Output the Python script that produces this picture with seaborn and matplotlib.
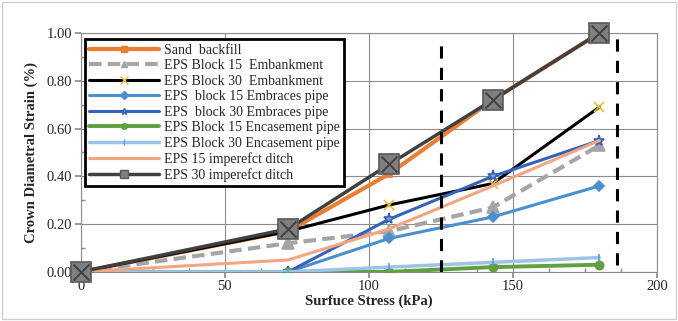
import matplotlib
matplotlib.use("Agg")
import matplotlib.pyplot as plt
import seaborn as sns
import pandas as pd
from matplotlib.patches import Rectangle
from matplotlib.lines import Line2D
from matplotlib.ticker import MultipleLocator

# ---- data ----
stress = [0, 72, 107, 143, 180]
sand_backfill = [0.00, 0.17, 0.41, 0.72, 1.00]
eps15_embankment = [0.00, 0.12, 0.17, 0.27, 0.53]
eps30_embankment = [0.00, 0.17, 0.28, 0.37, 0.69]
eps15_embraces = [0.00, 0.00, 0.14, 0.23, 0.36]
eps30_embraces = [0.00, 0.00, 0.22, 0.40, 0.55]
eps15_encasement = [0.00, 0.00, 0.00, 0.02, 0.03]
eps30_encasement = [0.00, 0.00, 0.02, 0.04, 0.06]
eps15_ditch = [0.00, 0.05, 0.18, 0.36, 0.55]
eps30_ditch = [0.00, 0.18, 0.45, 0.72, 1.00]

labels = ["Sand  backfill", "EPS Block 15  Embankment", "EPS Block 30  Embankment",
          "EPS  block 15 Embraces pipe", "EPS  block 30 Embraces pipe",
          "EPS Block 15 Encasement pipe", "EPS Block 30 Encasement pipe",
          "EPS 15 imperefct ditch", "EPS 30 imperefct ditch"]
series = [sand_backfill, eps15_embankment, eps30_embankment, eps15_embraces,
          eps30_embraces, eps15_encasement, eps30_encasement, eps15_ditch, eps30_ditch]
limit_lines = [125, 186]

x_ticks = [0, 50, 100, 150, 200]
y_ticks = [0.0, 0.2, 0.4, 0.6, 0.8, 1.0]

df = pd.DataFrame({
    "stress": stress * len(series),
    "strain": sum(series, []),
    "case": sum([[l] * len(stress) for l in labels], []),
})

styles = {
    labels[0]: dict(color="#ED7D31", lw=3.0, ls="-", marker="s", ms=4, mfc="#ED7D31", mec="#ED7D31"),
    labels[1]: dict(color="#A5A5A5", lw=3.0, ls=(0, (3, 1.5)), marker="^", ms=8, mfc="#A5A5A5", mec="#A5A5A5"),
    labels[2]: dict(color="black", lw=2.2, ls="-", marker="x", ms=7, mfc="#FFD966", mec="#E6C229"),
    labels[3]: dict(color="#4A8FD0", lw=2.2, ls="-", marker="D", ms=5, mfc="#4A8FD0", mec="#4A8FD0"),
    labels[4]: dict(color="#3563B8", lw=2.2, ls="-", marker="*", ms=8, mfc="#7FA3E0", mec="#3563B8"),
    labels[5]: dict(color="#5FA040", lw=2.8, ls="-", marker="o", ms=6, mfc="#5FA040", mec="#5FA040"),
    labels[6]: dict(color="#9DC3E6", lw=2.5, ls="-", marker="|", ms=6, mfc="#9DC3E6", mec="#5B9BD5"),
    labels[7]: dict(color="#F4A582", lw=2.2, ls="-", marker=None, ms=0, mfc="none", mec="none"),
    labels[8]: dict(color="#404040", lw=2.5, ls="-", marker="s", ms=15, mfc="#7F7F7F", mec="#595959"),
}
legend_ms = [4, 5, 6, 4, 5, 4, 5, 0, 6]

sns.set_theme(style="white")
plt.rcParams["font.family"] = ["Liberation Serif", "DejaVu Serif"]

fig = plt.figure(figsize=(6.78, 3.21), dpi=100)
ax = fig.add_axes([0.119, 0.153, 0.850, 0.744])

for lab in labels:
    st = styles[lab]
    sub = df[df["case"] == lab]
    sns.lineplot(data=sub, x="stress", y="strain", ax=ax, color=st["color"], lw=st["lw"],
                 linestyle="-", marker=st["marker"], markersize=st["ms"],
                 markerfacecolor=st["mfc"], markeredgecolor=st["mec"], markeredgewidth=1.2,
                 zorder=3, clip_on=(lab != labels[8]))
    ax.lines[-1].set_linestyle(st["ls"])

# X overlay on the large square markers of the ditch series
ax.scatter(stress, eps30_ditch, marker="x", s=130, color="#404040", linewidths=1.4,
           zorder=5, clip_on=False)

for xv, (y0, y1) in zip(limit_lines, [(0.0, 0.98), (0.03, 1.0)]):
    ax.plot([xv, xv], [y0, y1], color="black", lw=2.2, ls=(0, (4, 3)), zorder=4)

ax.set_xlim(0, 200)
ax.set_ylim(0, 1.0)
ax.set_xticks(x_ticks)
ax.set_yticks(y_ticks)
ax.set_yticklabels([f"{v:.2f}" for v in y_ticks])
ax.xaxis.set_minor_locator(MultipleLocator(12.5))
ax.yaxis.set_minor_locator(MultipleLocator(0.1))
ax.grid(True, which="major", color="#8C8C8C", lw=0.8)
ax.tick_params(axis="both", which="major", labelsize=10.5, length=4, color="#8C8C8C",
               direction="out", left=True, bottom=True, pad=2)
ax.tick_params(axis="both", which="minor", length=3, color="#8C8C8C", direction="in",
               left=True, bottom=True)
for sp in ax.spines.values():
    sp.set_color("#8C8C8C")
    sp.set_linewidth(0.8)
ax.set_xlabel("Surfuce Stress (kPa)", fontsize=10.5, fontweight="bold", labelpad=1)
ax.set_ylabel("Crown Diametral Strain (%)", fontsize=10.5, fontweight="bold", labelpad=6)

handles = []
for lab, lms in zip(labels, legend_ms):
    st = styles[lab]
    handles.append(Line2D([0], [0], color=st["color"], lw=st["lw"], ls=st["ls"],
                          marker=st["marker"], markersize=lms, markerfacecolor=st["mfc"],
                          markeredgecolor=st["mec"]))
leg = ax.legend(handles, labels, loc="upper left", bbox_to_anchor=(0.003, 0.985), fontsize=10,
                handlelength=5.0, labelspacing=0.18, borderpad=0.3, handletextpad=0.4,
                borderaxespad=0.2, frameon=True, fancybox=False, framealpha=1)
leg.get_frame().set_edgecolor("black")
leg.get_frame().set_linewidth(2.0)
leg.set_zorder(10)

fig.patches.append(Rectangle((0.003, 0.005), 0.994, 0.99, transform=fig.transFigure,
                             fill=False, edgecolor="#D0D0D0", lw=1.0))

fig.savefig("out.png", dpi=100)
